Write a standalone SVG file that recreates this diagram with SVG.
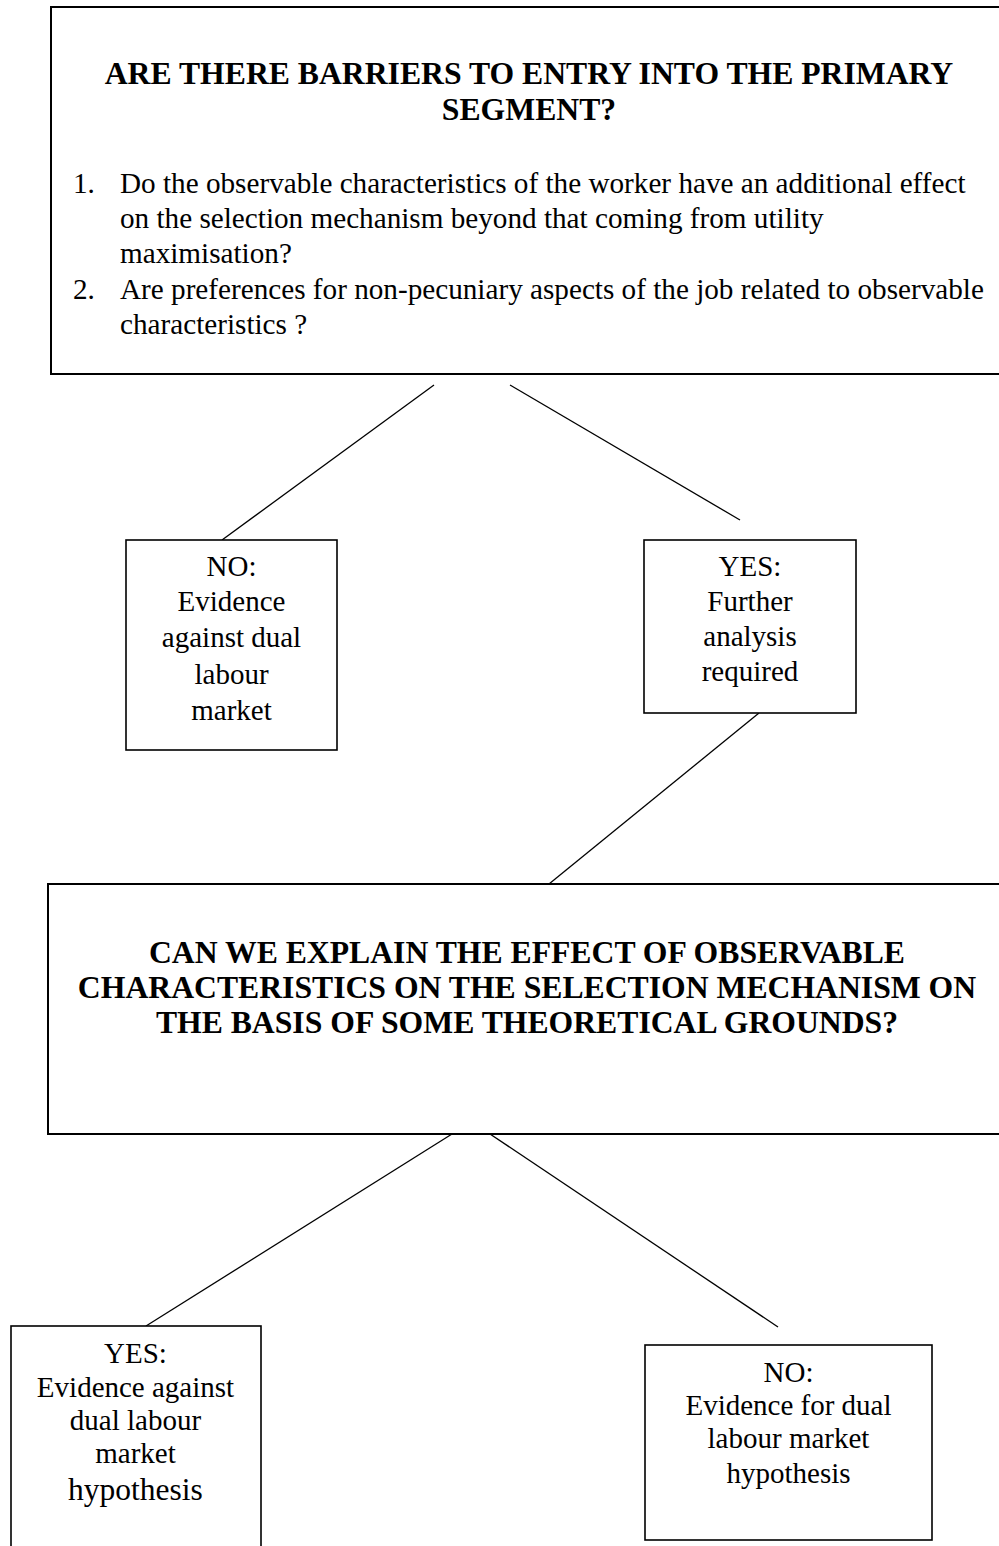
<svg xmlns="http://www.w3.org/2000/svg" width="999" height="1546" viewBox="0 0 999 1546">
  <style>
    .box { fill: #ffffff; stroke: #000000; stroke-width: 2; }
    .sbox { fill: #ffffff; stroke: #000000; stroke-width: 1.6; }
    .conn line { stroke: #000000; stroke-width: 1.3; fill: none; }
    .head { font-family: "Liberation Serif", "Times New Roman", serif; font-weight: bold; font-size: 31.7px; fill: #000; text-anchor: middle; }
    .body { font-family: "Liberation Serif", "Times New Roman", serif; font-size: 29.2px; fill: #000; }
    .lbl { font-family: "Liberation Serif", "Times New Roman", serif; font-size: 29px; fill: #000; text-anchor: middle; }
  </style>
  <rect width="999" height="1546" fill="#ffffff"/>

  <g id="connectors" class="conn">
    <line x1="434" y1="385" x2="222" y2="540"/>
    <line x1="510" y1="385" x2="740" y2="520"/>
    <line x1="759" y1="713" x2="549" y2="884"/>
    <line x1="452" y1="1134" x2="146" y2="1326"/>
    <line x1="490" y1="1134" x2="778" y2="1327"/>
  </g>

  <g id="q1">
    <rect class="box" x="51" y="7" width="1000" height="367"/>
    <text class="head" x="529" y="84">ARE THERE BARRIERS TO ENTRY INTO THE PRIMARY</text>
    <text class="head" x="529" y="120">SEGMENT?</text>
    <text class="body" x="73" y="193">1.</text>
    <text class="body" x="120" y="193">Do the observable characteristics of the worker have an additional effect</text>
    <text class="body" x="120" y="228">on the selection mechanism beyond that coming from utility</text>
    <text class="body" x="120" y="263">maximisation?</text>
    <text class="body" x="73" y="298.5">2.</text>
    <text class="body" x="120" y="298.5">Are preferences for non-pecuniary aspects of the job related to observable</text>
    <text class="body" x="120" y="333.5">characteristics ?</text>
  </g>

  <g id="no1">
    <rect class="sbox" x="126" y="540" width="211" height="210"/>
    <text class="lbl" x="231.5" y="576">NO:</text>
    <text class="lbl" x="231.5" y="611">Evidence</text>
    <text class="lbl" x="231.5" y="647">against dual</text>
    <text class="lbl" x="231.5" y="684">labour</text>
    <text class="lbl" x="231.5" y="720">market</text>
  </g>

  <g id="yes1">
    <rect class="sbox" x="644" y="540" width="212" height="173"/>
    <text class="lbl" x="750" y="576">YES:</text>
    <text class="lbl" x="750" y="611">Further</text>
    <text class="lbl" x="750" y="646">analysis</text>
    <text class="lbl" x="750" y="681">required</text>
  </g>

  <g id="q2">
    <rect class="box" x="48" y="884" width="1000" height="250"/>
    <text class="head" x="527" y="963">CAN WE EXPLAIN THE EFFECT OF OBSERVABLE</text>
    <text class="head" x="527" y="998">CHARACTERISTICS ON THE SELECTION MECHANISM ON</text>
    <text class="head" x="527" y="1033">THE BASIS OF SOME THEORETICAL GROUNDS?</text>
  </g>

  <g id="yes2">
    <rect class="sbox" x="11" y="1326" width="250" height="260"/>
    <text class="lbl" x="135.5" y="1363">YES:</text>
    <text class="lbl" x="135.5" y="1397">Evidence against</text>
    <text class="lbl" x="135.5" y="1430">dual labour</text>
    <text class="lbl" x="135.5" y="1463">market</text>
    <text class="lbl" x="135.5" y="1500" style="font-size:31.5px">hypothesis</text>
  </g>

  <g id="no2">
    <rect class="sbox" x="645" y="1345" width="287" height="195"/>
    <text class="lbl" x="788.5" y="1382">NO:</text>
    <text class="lbl" x="788.5" y="1415">Evidence for dual</text>
    <text class="lbl" x="788.5" y="1448">labour market</text>
    <text class="lbl" x="788.5" y="1483">hypothesis</text>
  </g>
</svg>
